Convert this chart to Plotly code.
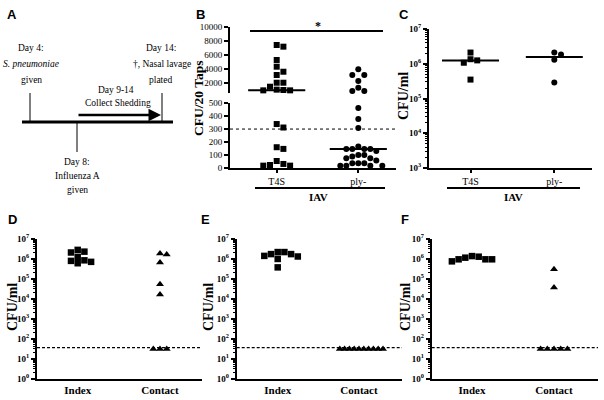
import numpy as np
import plotly.graph_objects as go

# ---------------- data ----------------
B_GROUPS = ["T4S", "ply-"]
B_T4S = [7430, 7190, 5290, 4330, 3610, 3140, 2040, 2040, 1470, 1050, 1000, 950, 950,
         339, 312, 159, 146, 52, 29, 21, 16, 16]
B_PLY = [3960, 3140, 3140, 2290, 1330, 860, 860,
         464, 378, 308, 164, 146, 146, 146, 146, 130, 99, 99, 86, 73, 73, 55,
         34, 34, 34, 16, 16, 16, 16]
B_CUTOFF = 300
B_UPPER_TICKS = [2000, 4000, 6000, 8000, 10000]
B_LOWER_TICKS = [0, 100, 200, 300, 400, 500]

C_GROUPS = ["T4S", "ply-"]
C_T4S = [2.1e6, 1.25e6, 1.07e6, 1.35e6, 3.5e5]
C_PLY = [1.85e6, 2.1e6, 1.3e6, 2.9e5]
C_TICKS = [1e3, 1e4, 1e5, 1e6, 1e7]

DEF_GROUPS = ["Index", "Contact"]
D_INDEX = [1.2e6, 2.2e6, 2.0e6, 2.7e6, 7.6e5, 5.8e5, 6.8e5, 8.1e5]
D_CONTACT = [1.6e6, 1.8e6, 6.3e5, 5.1e4, 1.6e4, 30, 30, 30]
E_INDEX = [2.1e6, 1.66e6, 1.26e6, 9.5e5, 3.6e5, 1.35e6, 1.66e6, 2.1e6]
E_CONTACT = [30, 30, 30, 30, 30, 30, 30, 30, 30, 30]
F_INDEX = [1.32e6, 1.1e6, 9.1e5, 7.2e5, 9.1e5, 9.1e5, 1.23e6]
F_CONTACT = [2.9e5, 3.5e4, 30, 30, 30, 30, 30]
DEF_LOD = 35
DEF_TICKS = [1, 10, 100, 1e3, 1e4, 1e5, 1e6, 1e7]

# ---------------- geometry (px) ----------------
W, H = 604, 400
SERIF = "Liberation Serif, Times New Roman, serif"
SANS = "Liberation Sans, Arial, sans-serif"


def fx(p):
    return p / W


def fy(p):
    return 1 - p / H


BX = dict(left=230, right=396, c0=276.7, c1=358.3)
BY_HI = dict(top=27, bot=93, rng=(571, 10000), log=False)
BY_LO = dict(top=103.3, bot=167.7, rng=(0, 500), log=False)
CX = dict(left=429, right=592, c0=470.5, c1=554.3)
CY = dict(top=29, bot=168, rng=(3, 7), log=True)
DX = dict(left=37, right=202, c0=77.7, c1=160.0)
EX = dict(left=236.7, right=402, c0=277.7, c1=359.0)
FX = dict(left=431.7, right=598, c0=472.0, c1=554.0)
DEFY = dict(top=238.5, bot=378.5, rng=(0, 7), log=True)


def ypx(v, g):
    if g["log"]:
        t = np.log10(v)
    else:
        t = v
    lo, hi = g["rng"]
    return g["top"] + (hi - t) / (hi - lo) * (g["bot"] - g["top"])


def xrange_of(gx):
    s = gx["c1"] - gx["c0"]
    return [(gx["left"] - gx["c0"]) / s, (gx["right"] - gx["c0"]) / s]


def swarm(py, d=6.7, wmax=24.0):
    py = np.asarray(py, float)
    order = np.argsort(py, kind="stable")
    h = d / 2
    cands = [0.0] + [s * k * h for k in range(1, 60) for s in (1, -1)]
    placed = []
    offs = np.zeros(len(py))
    for i in order:
        y = py[i]
        for c in cands:
            ok = True
            for (qx, qy) in placed:
                if abs(c - qx) < d * 0.98 and abs(y - qy) < d * 0.9:
                    ok = False
                    break
            if ok:
                offs[i] = c
                placed.append((c, y))
                break
    m = np.max(np.abs(offs)) if len(offs) else 0
    if m > wmax:
        offs = offs * wmax / m
    return offs


fig = go.Figure()


def add_pts(xs, ys, xa, ya, symbol, size):
    fig.add_trace(go.Scatter(x=xs, y=ys, xaxis=xa, yaxis=ya, mode="markers",
                             marker=dict(symbol=symbol, size=size, color="black",
                                         line=dict(width=0)),
                             cliponaxis=False, showlegend=False, hoverinfo="y"))


def add_median(ci, m, xa, ya, half=0.35):
    fig.add_trace(go.Scatter(x=[ci - half, ci + half], y=[m, m], xaxis=xa, yaxis=ya,
                             mode="lines", line=dict(color="black", width=2),
                             cliponaxis=False, showlegend=False, hoverinfo="skip"))


# ---- panel B (broken axis) ----
brk = BY_HI["rng"][0]
sB = BX["c1"] - BX["c0"]
for ci, (vals, sym) in enumerate([(B_T4S, "square"), (B_PLY, "circle")]):
    vals = np.asarray(vals, float)
    py = [ypx(v, BY_HI) if v >= brk else ypx(v, BY_LO) for v in vals]
    offs = swarm(py) / sB
    up = vals >= brk
    add_pts(ci + offs[up], vals[up], "x2", "y2", sym, 6)
    add_pts(ci + offs[~up], vals[~up], "x", "y", sym, 6)
    med = float(np.median(vals))
    if med >= brk:
        add_median(ci, med, "x2", "y2")
    else:
        add_median(ci, med, "x", "y")

# ---- panel C ----
sC = CX["c1"] - CX["c0"]
for ci, (vals, sym) in enumerate([(C_T4S, "square"), (C_PLY, "circle")]):
    vals = np.asarray(vals, float)
    py = [ypx(v, CY) for v in vals]
    offs = swarm(py) / sC
    add_pts(ci + offs, vals, "x3", "y3", sym, 6)
    add_median(ci, float(np.median(vals)), "x3", "y3", 0.34)

# ---- panels D, E, F ----
for (idx, con, gx, xa, ya) in [(D_INDEX, D_CONTACT, DX, "x4", "y4"),
                               (E_INDEX, E_CONTACT, EX, "x5", "y5"),
                               (F_INDEX, F_CONTACT, FX, "x6", "y6")]:
    s = gx["c1"] - gx["c0"]
    for ci, (vals, sym, sz) in enumerate([(idx, "square", 6.5), (con, "triangle-up", 7)]):
        vals = np.asarray(vals, float)
        py = [ypx(v, DEFY) for v in vals]
        offs = swarm(py) / s
        add_pts(ci + offs, vals, xa, ya, sym, sz)

# ---------------- axes ----------------
base_line = dict(showgrid=False, zeroline=False, showline=True, linecolor="black",
                 linewidth=2, mirror=False, fixedrange=True, automargin=False)


def xaxis(gx, anchor, labels, bold=False, size=10, visible=True, ticklen=3):
    return dict(base_line, domain=[fx(gx["left"]), fx(gx["right"])], range=xrange_of(gx),
                anchor=anchor, tickmode="array", tickvals=list(range(len(labels))),
                ticktext=labels, ticks="outside", ticklen=ticklen, tickwidth=1.5,
                tickcolor="black", visible=visible,
                tickfont=dict(family=SERIF, size=size, color="black",
                              weight="bold" if bold else "normal"))


def yaxis_lin(g, anchor, ticks):
    return dict(base_line, domain=[fy(g["bot"]), fy(g["top"])], range=list(g["rng"]),
                anchor=anchor, tickmode="array", tickvals=ticks,
                ticktext=[str(t) for t in ticks], ticks="outside", ticklen=4,
                tickwidth=1.5, tickcolor="black",
                tickfont=dict(family=SERIF, size=9, color="black"))


def yaxis_log(g, anchor, ticks):
    exps = [int(round(np.log10(t))) for t in ticks]
    minor = [k * 10 ** e for e in exps[:-1] for k in range(2, 10)]
    return dict(base_line, type="log", domain=[fy(g["bot"]), fy(g["top"])],
                range=list(g["rng"]), anchor=anchor, tickmode="array", tickvals=ticks,
                ticktext=["10<sup>%d</sup>" % e for e in exps], ticks="outside",
                ticklen=4, tickwidth=1.5, tickcolor="black",
                minor=dict(tickmode="array", tickvals=minor, ticks="outside", ticklen=2,
                           tickwidth=1, tickcolor="black", showgrid=False),
                tickfont=dict(family=SERIF, size=9, color="black", weight="bold"))


layout = dict(
    width=W, height=H, margin=dict(l=0, r=0, t=0, b=0, pad=0), autosize=False,
    paper_bgcolor="white", plot_bgcolor="white", showlegend=False,
    xaxis=xaxis(BX, "y", B_GROUPS),
    yaxis=yaxis_lin(BY_LO, "x", B_LOWER_TICKS),
    xaxis2=xaxis(BX, "y2", B_GROUPS, visible=False),
    yaxis2=yaxis_lin(BY_HI, "x2", B_UPPER_TICKS),
    xaxis3=xaxis(CX, "y3", C_GROUPS),
    yaxis3=yaxis_log(CY, "x3", C_TICKS),
    xaxis4=xaxis(DX, "y4", DEF_GROUPS, bold=True, size=11, ticklen=0),
    yaxis4=yaxis_log(DEFY, "x4", DEF_TICKS),
    xaxis5=xaxis(EX, "y5", DEF_GROUPS, bold=True, size=11, ticklen=0),
    yaxis5=yaxis_log(DEFY, "x5", DEF_TICKS),
    xaxis6=xaxis(FX, "y6", DEF_GROUPS, bold=True, size=11, ticklen=0),
    yaxis6=yaxis_log(DEFY, "x6", DEF_TICKS),
)
fig.update_layout(**layout)

# ---------------- shapes ----------------
shapes = []


def pline(x0, y0, x1, y1, w=2, dash="solid"):
    shapes.append(dict(type="line", xref="paper", yref="paper", x0=fx(x0), x1=fx(x1),
                       y0=fy(y0), y1=fy(y1), line=dict(color="black", width=w, dash=dash)))


# B cutoff line and LOD lines
shapes.append(dict(type="line", xref="x domain", yref="y", x0=0, x1=1, y0=B_CUTOFF,
                   y1=B_CUTOFF, line=dict(color="black", width=1, dash="dot")))
for xa, ya in [("x4", "y4"), ("x5", "y5"), ("x6", "y6")]:
    shapes.append(dict(type="line", xref=xa + " domain", yref=ya, x0=0, x1=1, y0=DEF_LOD,
                       y1=DEF_LOD, line=dict(color="black", width=1.3, dash="3px,2px")))
# significance bar and IAV bars
pline(250, 31, 383, 31, 2)
pline(255, 188, 385, 188, 2)
pline(447, 188, 580, 188, 2)
# panel A timeline
pline(22, 122, 173, 122, 3)
pline(30, 93, 30, 122, 1)
pline(77, 122, 77, 152, 1)
pline(162, 93, 162, 122, 1)
fig.update_layout(shapes=shapes)

# ---------------- annotations ----------------
ann = []


def txt(x, y, s, size=10, family=SERIF, bold=False, italic=False, angle=0,
        xanchor="center", yanchor="middle"):
    ann.append(dict(x=fx(x), y=fy(y), xref="paper", yref="paper", text=s,
                    showarrow=False, textangle=angle, xanchor=xanchor, yanchor=yanchor,
                    font=dict(family=family, size=size, color="black",
                              weight="bold" if bold else "normal",
                              style="italic" if italic else "normal")))


for L, x, y in [("A", 12, 14), ("B", 200, 14), ("C", 404, 14),
                ("D", 12, 219), ("E", 205, 219), ("F", 405, 219)]:
    txt(x, y, L, size=13, family=SANS, bold=True)

# panel A texts
A_FS = 9.5
txt(31, 48, "Day 4:", A_FS)
txt(31, 64, "S. pneumoniae", A_FS, italic=True)
txt(31, 80, "given", A_FS)
txt(161, 48, "Day 14:", A_FS)
txt(162, 64, "\u2020, Nasal lavage", A_FS)
txt(160, 80, "plated", A_FS)
txt(116, 90, "Day 9-14", A_FS)
txt(118, 103, "Collect Shedding", A_FS)
txt(77, 162, "Day 8:", A_FS)
txt(77, 176, "Influenza A", A_FS)
txt(77, 190, "given", A_FS)
ann.append(dict(x=fx(161), y=fy(115), xref="paper", yref="paper", ax=-84, ay=0,
                axref="pixel", ayref="pixel", text="", showarrow=True, arrowhead=2,
                arrowsize=1, arrowwidth=2.5, arrowcolor="black"))

# axis titles
txt(198, 99, "CFU/20 Taps", 13.5, bold=True, angle=-90)
txt(403, 96, "CFU/ml", 14, bold=True, angle=-90)
txt(12, 307, "CFU/ml", 14, bold=True, angle=-90)
txt(208, 307, "CFU/ml", 14, bold=True, angle=-90)
txt(405, 307, "CFU/ml", 14, bold=True, angle=-90)
# significance star and IAV labels
txt(318, 26, "*", 12, bold=True)
txt(318, 197, "IAV", 11, bold=True)
txt(513, 197, "IAV", 11, bold=True)
fig.update_layout(annotations=ann)

fig.write_html("out.html", config={"displayModeBar": False},
               post_script="document.body.style.margin='0';document.body.style.overflow='hidden';")
